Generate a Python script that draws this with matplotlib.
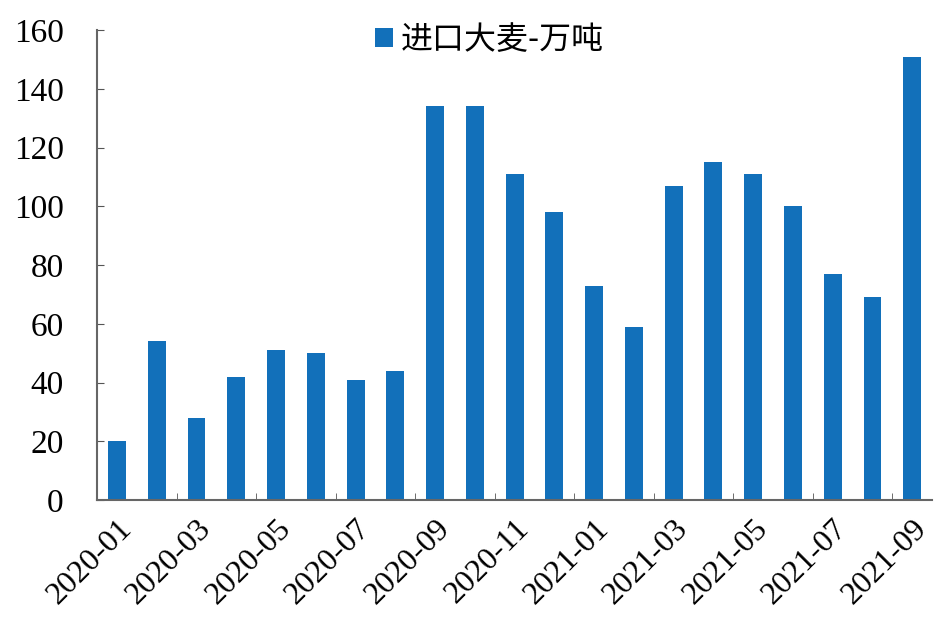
import numpy as np
import matplotlib
matplotlib.use('Agg')
from matplotlib import pyplot as plt
from matplotlib.ticker import FixedLocator

months = ['2020-01', '2020-02', '2020-03', '2020-04', '2020-05', '2020-06', '2020-07',
          '2020-08', '2020-09', '2020-10', '2020-11', '2020-12', '2021-01', '2021-02',
          '2021-03', '2021-04', '2021-05', '2021-06', '2021-07', '2021-08', '2021-09']
barley_import = [20, 54, 28, 42, 51, 50, 41, 44, 134, 134, 111, 98, 73, 59,
                 107, 115, 111, 100, 77, 69, 151]
series_name = '进口大麦-万吨'
y_ticks = [0, 20, 40, 60, 80, 100, 120, 140, 160]

plt.rcParams['font.family'] = ['Liberation Serif', 'Noto Sans CJK SC']

fig = plt.figure(figsize=(9.34, 6.41), dpi=100)
ax = fig.add_axes([0.104, 0.22, 0.894, 0.733])

x = np.arange(len(months))
ax.bar(x, barley_import, width=0.45, color='#1270BA', label=series_name)

ax.set_xlim(-0.5, len(months) - 0.5)
ax.set_ylim(0, 160)
ax.set_yticks(y_ticks)
ax.tick_params(axis='y', labelsize=24, direction='in', length=5, color='#555555', pad=24)

ax.set_xticks(x[::2], months[::2], rotation=45, ha='right', rotation_mode='anchor')
ax.xaxis.set_minor_locator(FixedLocator(x[1::2] + 0.5))
ax.tick_params(axis='x', which='major', length=0, labelsize=23, pad=10)
ax.tick_params(axis='x', which='minor', direction='in', length=5, color='#555555')

for side in ['top', 'right']:
    ax.spines[side].set_visible(False)
for side in ['left', 'bottom']:
    ax.spines[side].set_color('#666666')
    ax.spines[side].set_linewidth(1.5)

leg = ax.legend(loc='upper center', bbox_to_anchor=(0.47, 1.075), frameon=False,
                handlelength=0.55, handleheight=0.55, handletextpad=0.25,
                prop={'family': ['Noto Sans CJK SC'], 'size': 23})

fig.savefig('out.png', dpi=100)
